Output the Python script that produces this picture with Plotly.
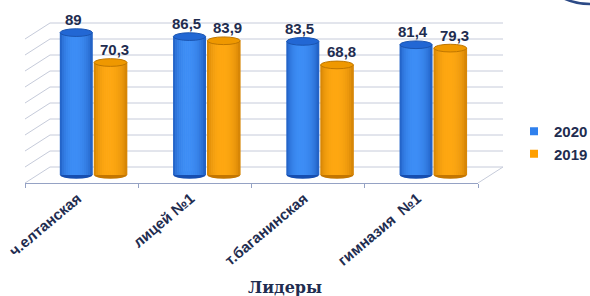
import math
import plotly.graph_objects as go

# ---------------- data ----------------
categories = ["ч.елтанская", "лицей №1", "т.баганинская", "гимназия  №1"]
series_names = ["2020", "2019"]
values_2020 = [89, 86.5, 83.5, 81.4]
values_2019 = [70.3, 83.9, 68.8, 79.3]
grid_values = [0, 10, 20, 30, 40, 50, 60, 70, 80, 90]
axis_title = "Лидеры"

# ---------------- geometry / style ----------------
W, H = 590, 296
L, R, T, B = 25, 478, 15, 183          # front plane of plot area (px)
Y_MIN, Y_MAX = -5, 100
DX_PX = 25                              # depth shift (px) front -> back
HALF_DEPTH = 5                          # data units front->mid / mid->back
NAVY = "#1F2D50"
GRID = "#C6CBDA"
AXIS = "#95A2C4"


def px_x(px):
    return (px - L) / (R - L)


def px_y(py):
    return (B - py) / (B - T)


series = [
    dict(name=series_names[0], vals=values_2020, off=-0.19, w=0.285,
         dark=(22, 78, 176), light=(62, 142, 246),
         cap="#2267D4", capline="#1A54B0", legend="#2F80ED", xs=-3),
    dict(name=series_names[1], vals=values_2019, off=0.11, w=0.29,
         dark=(196, 118, 0), light=(255, 168, 18),
         cap="#EF9800", capline="#BF7600", legend="#FF9F00", xs=4),
]

fig = go.Figure()
shapes = []
annotations = []

N_SLICES = 16
for s in series:
    sw = s["w"] / N_SLICES
    for j in range(N_SLICES):
        t = (j + 0.5) / N_SLICES
        u = t * 0.5 / 0.45 if t < 0.45 else 0.5 + (t - 0.45) * 0.5 / 0.55
        f = max(0.0, math.sin(math.pi * min(1.0, u))) ** 0.45
        col = tuple(int(d + (l - d) * f) for d, l in zip(s["dark"], s["light"]))
        fig.add_trace(go.Bar(
            x=categories, y=s["vals"],
            width=[sw * 1.35] * len(categories),
            offset=[s["off"] + j * sw - sw * 0.15] * len(categories),
            marker=dict(color="rgb(%d,%d,%d)" % col, line=dict(width=0)),
            showlegend=False, hoverinfo="skip",
        ))
    for i, v in enumerate(s["vals"]):
        x0 = i + s["off"]
        x1 = x0 + s["w"]
        shapes.append(dict(type="circle", xref="x", yref="y", x0=x0, x1=x1,
                           y0=-2.4, y1=2.4, fillcolor="rgb(%d,%d,%d)" % s["dark"],
                           line=dict(width=0), layer="below"))
        shapes.append(dict(type="circle", xref="x", yref="y", x0=x0, x1=x1,
                           y0=v - 2.4, y1=v + 2.4, fillcolor=s["cap"],
                           line=dict(width=1, color=s["capline"]), layer="above"))
        annotations.append(dict(x=(x0 + x1) / 2, y=v, xref="x", yref="y",
                                text=str(v).replace(".", ","), showarrow=False,
                                yanchor="middle", yshift=13, xshift=s["xs"],
                                font=dict(family="Liberation Sans, Arial", size=15,
                                          color=NAVY, weight="bold")))
    fig.add_trace(go.Scatter(x=[None], y=[None], mode="markers", name=s["name"],
                             marker=dict(symbol="square", size=8, color=s["legend"]),
                             hoverinfo="skip"))

for g in grid_values:
    shapes.append(dict(type="line", xref="paper", yref="y",
                       x0=px_x(L + DX_PX), x1=px_x(R + DX_PX),
                       y0=g + HALF_DEPTH, y1=g + HALF_DEPTH,
                       line=dict(color=GRID, width=1), layer="below"))
    shapes.append(dict(type="line", xref="paper", yref="y",
                       x0=px_x(L), x1=px_x(L + DX_PX),
                       y0=g - HALF_DEPTH, y1=g + HALF_DEPTH,
                       line=dict(color=GRID, width=1), layer="below"))
shapes.append(dict(type="line", xref="paper", yref="y",
                   x0=px_x(R), x1=px_x(R + DX_PX),
                   y0=-HALF_DEPTH, y1=HALF_DEPTH,
                   line=dict(color=GRID, width=1), layer="below"))
# decorative arc at top-right
shapes.append(dict(type="circle", xref="paper", yref="paper",
                   x0=px_x(590 - 62), x1=px_x(590 + 62),
                   y0=px_y(-58 + 62), y1=px_y(-58 - 62),
                   line=dict(color="#2C4A86", width=2.5)))

annotations.append(dict(x=px_x(285), y=px_y(287), xref="paper", yref="paper",
                        text=axis_title, showarrow=False,
                        xanchor="center", yanchor="middle",
                        font=dict(family="DejaVu Serif, Liberation Serif", size=16,
                                  color=NAVY, weight="bold")))

fig.update_layout(
    width=W, height=H, autosize=False,
    margin=dict(l=L, r=W - R, t=T, b=H - B, pad=0, autoexpand=False),
    paper_bgcolor="white", plot_bgcolor="rgba(0,0,0,0)",
    barmode="overlay",
    shapes=shapes, annotations=annotations,
    showlegend=True,
    legend=dict(x=px_x(514), y=px_y(115), xanchor="left", yanchor="top",
                xref="paper", yref="paper",
                font=dict(family="Liberation Sans, Arial", size=15, color=NAVY, weight="bold"),
                bgcolor="rgba(0,0,0,0)", itemwidth=30, tracegroupgap=0),
    xaxis=dict(type="category", categoryorder="array", categoryarray=categories,
               range=[-0.5, len(categories) - 0.5], automargin=False,
               showgrid=False, zeroline=False, showline=True, linecolor=AXIS, linewidth=1,
               ticks="outside", tickson="boundaries", ticklen=4, tickcolor=AXIS,
               tickangle=-40, ticklabelshift=-4,
               tickfont=dict(family="Liberation Sans, Arial", size=15, color=NAVY, weight="bold")),
    yaxis=dict(range=[Y_MIN, Y_MAX], showgrid=False, zeroline=False, automargin=False,
               showticklabels=False, showline=False, ticks=""),
)

fig.write_html("out.html", config={"displayModeBar": False, "staticPlot": True},
               post_script="document.body.style.margin='0';document.body.style.overflow='hidden';")
